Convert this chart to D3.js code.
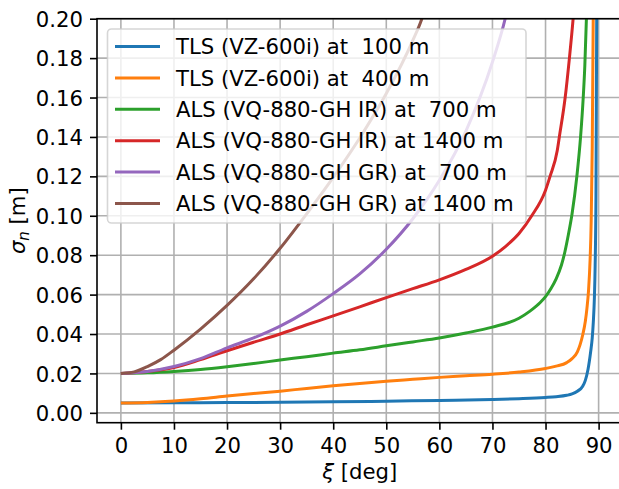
<!DOCTYPE html>
<html>
<head>
<meta charset="utf-8">
<script src="https://cdn.jsdelivr.net/npm/d3@7"></script>
<style>
  html, body { margin: 0; padding: 0; background: #fff; }
  svg { display: block; font-family: "DejaVu Sans", sans-serif; }
</style>
</head>
<body>
<svg id="chart" width="619" height="489"></svg>
<script>
// ---- data ----
const seriesNames = [
  "TLS (VZ-600i) at  100 m",
  "TLS (VZ-600i) at  400 m",
  "ALS (VQ-880-GH IR) at  700 m",
  "ALS (VQ-880-GH IR) at 1400 m",
  "ALS (VQ-880-GH GR) at  700 m",
  "ALS (VQ-880-GH GR) at 1400 m"
];
const seriesColors = ["#1f77b4", "#ff7f0e", "#2ca02c", "#d62728", "#9467bd", "#8c564b"];

const xiTLS100 = [0,10,20,30,40,50,60,70,75,80,82,84,85,86,87,87.5,88,88.5,88.8,89.0,89.2,89.35,89.5,89.65];
const sigTLS100 = [0.005,0.0051,0.0052,0.0054,0.0056,0.0059,0.0063,0.0068,0.0072,0.0078,0.0082,0.0089,0.0096,0.011,0.0135,0.0165,0.022,0.031,0.038,0.046,0.058,0.075,0.11,0.206];

const xiTLS400 = [0,5,10,15,20,25,30,35,40,45,50,55,60,65,70,75,80,82,84,85,86,86.5,87,87.5,87.8,88.1,88.4,88.6,88.8,89.0];
const sigTLS400 = [0.005,0.0053,0.006,0.0071,0.0085,0.0098,0.011,0.0124,0.0137,0.0149,0.016,0.017,0.018,0.0188,0.0196,0.0207,0.0225,0.0237,0.0255,0.0275,0.031,0.0345,0.0395,0.0465,0.053,0.062,0.078,0.097,0.135,0.206];

const xiIR700 = [0,5,10,15,20,25,30,35,40,45,50,55,60,65,70,75,77,79,80,81,82,83,83.5,84.2,85.0,85.9,86.6,87.1,87.4,87.7,87.9];
const sigIR700 = [0.02,0.0203,0.021,0.022,0.0234,0.025,0.0268,0.0285,0.0303,0.032,0.034,0.036,0.038,0.0405,0.0435,0.048,0.0515,0.056,0.059,0.063,0.068,0.075,0.08,0.089,0.101,0.12,0.14,0.16,0.176,0.2,0.22];

const xiIR1400 = [0,5,10,15,20,25,30,35,40,45,50,55,60,65,70,72.5,75,77.4,80,80.85,82.2,82.6,83.7,84.5,85.2,85.5];
const sigIR1400 = [0.02,0.021,0.023,0.027,0.0315,0.0358,0.040,0.0447,0.0492,0.0538,0.0585,0.063,0.0675,0.0728,0.0795,0.0845,0.091,0.1,0.113,0.12,0.133,0.14,0.16,0.18,0.2,0.21];

const xiGR700 = [0,5,10,15,20,25,30,35,40,45,50,55,60,65,70,72.4,73];
const sigGR700 = [0.02,0.021,0.0235,0.0275,0.033,0.038,0.044,0.0515,0.0605,0.0705,0.083,0.0985,0.118,0.143,0.178,0.2,0.207];

const xiGR1400 = [0,2.5,5,7.5,10,15,20,25,30,35,40,45,50,55,56.7,57.4];
const sigGR1400 = [0.02,0.0208,0.0235,0.027,0.0318,0.0425,0.0545,0.068,0.0835,0.101,0.1195,0.1395,0.162,0.189,0.2,0.206];

const seriesX = [xiTLS100, xiTLS400, xiIR700, xiIR1400, xiGR700, xiGR1400];
const seriesY = [sigTLS100, sigTLS400, sigIR700, sigIR1400, sigGR700, sigGR1400];

const xTicks = [0,10,20,30,40,50,60,70,80,90];
const yTicks = [0,0.02,0.04,0.06,0.08,0.10,0.12,0.14,0.16,0.18,0.20];

// ---- layout ----
const pL = 97, pR = 622.5, pT = 18.7, pB = 422.7;
const fs = 21.2;

const svg = d3.select("#chart");
svg.append("rect").attr("width", 619).attr("height", 489).attr("fill", "#fff");

const x = d3.scaleLinear().domain([-4.5, 94.5]).range([pL, pR]);
const y = d3.scaleLinear().domain([-0.005, 0.2]).range([pB, pT]);

svg.append("defs").append("clipPath").attr("id", "clip")
  .append("rect").attr("x", pL).attr("y", pT).attr("width", pR - pL).attr("height", pB - pT);

// grid
const grid = svg.append("g");
grid.selectAll("line.gx").data(xTicks).join("line").attr("class", "gx")
  .attr("x1", d => x(d)).attr("x2", d => x(d)).attr("y1", pT).attr("y2", pB)
  .attr("stroke", "#b0b0b0").attr("stroke-width", 1.6);
grid.selectAll("line.gy").data(yTicks).join("line").attr("class", "gy")
  .attr("x1", pL).attr("x2", pR).attr("y1", d => y(d)).attr("y2", d => y(d))
  .attr("stroke", "#b0b0b0").attr("stroke-width", 1.6);

// lines
const line = d3.line().x(d => x(d[0])).y(d => y(d[1])).curve(d3.curveMonotoneX);
const lines = svg.append("g").attr("clip-path", "url(#clip)");
seriesX.forEach((xs, i) => {
  const pts = xs.map((v, j) => [v, seriesY[i][j]]);
  lines.append("path").datum(pts).attr("d", line)
    .attr("fill", "none").attr("stroke", seriesColors[i]).attr("stroke-width", 3)
    .attr("stroke-linejoin", "round");
});

// axes
const xAxis = d3.axisBottom(x).tickValues(xTicks).tickFormat(d3.format("d")).tickSize(7).tickPadding(7);
const yAxis = d3.axisLeft(y).tickValues(yTicks).tickFormat(d3.format(".2f")).tickSize(7).tickPadding(7);

const gx = svg.append("g").attr("transform", `translate(0,${pB})`).call(xAxis);
const gy = svg.append("g").attr("transform", `translate(${pL},0)`).call(yAxis);
[gx, gy].forEach(g => {
  g.select(".domain").remove();
  g.selectAll(".tick line").attr("stroke", "#000").attr("stroke-width", 1.6);
  g.selectAll(".tick text").attr("font-size", fs).attr("font-family", "DejaVu Sans").attr("fill", "#000");
});
gx.selectAll(".tick text").attr("dy", "0.76em");
gy.selectAll(".tick text").attr("dy", "0.36em");

// spines (right spine lies outside the visible canvas)
svg.append("rect").attr("x", pL).attr("y", pT).attr("width", pR - pL).attr("height", pB - pT)
  .attr("fill", "none").attr("stroke", "#000").attr("stroke-width", 1.6);

// axis labels
const xl = svg.append("text").attr("x", (pL + pR) / 2).attr("y", 478.5)
  .attr("text-anchor", "middle").attr("font-size", fs).attr("fill", "#000")
  .style("white-space", "pre");
xl.append("tspan").attr("font-style", "italic").text("ξ");
xl.append("tspan").text(" [deg]");

const yl = svg.append("text")
  .attr("transform", `translate(24.5,${(pT + pB) / 2}) rotate(-90)`)
  .attr("text-anchor", "middle").attr("font-size", fs).attr("fill", "#000")
  .style("white-space", "pre");
yl.append("tspan").attr("font-style", "italic").text("σ");
yl.append("tspan").attr("font-style", "italic").attr("font-size", 15).attr("dy", 4).text("n");
yl.append("tspan").attr("dy", -4).text(" [m]");

// legend
const lg = svg.append("g");
lg.append("rect").attr("x", 107.5).attr("y", 29).attr("width", 418.5).attr("height", 194)
  .attr("rx", 4).attr("fill", "#fff").attr("fill-opacity", 0.8)
  .attr("stroke", "#cccccc").attr("stroke-opacity", 0.8).attr("stroke-width", 1.6);
seriesNames.forEach((name, i) => {
  const ly = 46.5 + i * 31.4;
  lg.append("line").attr("x1", 115).attr("x2", 160).attr("y1", ly).attr("y2", ly)
    .attr("stroke", seriesColors[i]).attr("stroke-width", 3);
  lg.append("text").attr("x", 176).attr("y", ly + 7.6).attr("font-size", fs).attr("fill", "#000")
    .style("white-space", "pre").text(name);
});
</script>
</body>
</html>
